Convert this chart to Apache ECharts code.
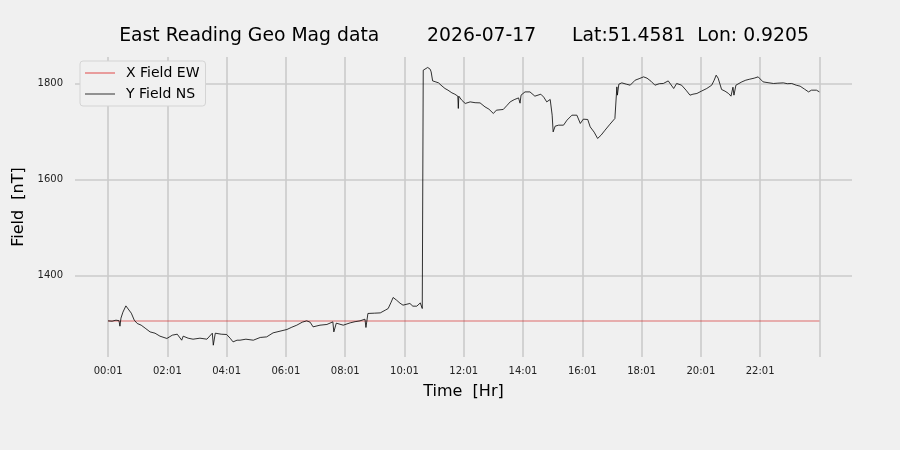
<!DOCTYPE html>
<html>
<head>
<meta charset="utf-8">
<script src="https://cdn.jsdelivr.net/npm/echarts@6/dist/echarts.min.js"></script>
<style>
  html, body { margin: 0; padding: 0; background: #f0f0f0; }
  #chart { width: 900px; height: 450px; }
</style>
</head>
<body>
<div id="chart"></div>
<script>
// time in minutes since midnight, field in nT
const yFieldNS = [
  [1,1306.3],[9,1305.6],[17,1307.7],[23,1306.7],[25,1295.2],[27,1311.9],[31,1324.4],[37,1337.5],
  [41,1334.8],[48,1322.3],[54,1307.7],[60,1300.8],[68,1297.3],[76,1291.1],[86,1283.3],[96,1280.6],
  [106,1274.4],[120,1269.6],[131,1276.5],[141,1278.5],[150,1266],[153,1274.4],[163,1270.2],[173,1268.1],
  [187,1270.2],[201,1268.1],[212,1280.6],[214,1255.6],[218,1280.6],[230,1278.5],[241,1277.9],[248,1270.2],
  [254,1262.5],[262,1266],[268,1266],[280,1268.1],[295,1266],[309,1271.7],[322,1272.9],[335,1281.3],
  [349,1284.8],[363,1288.3],[373,1293.1],[383,1297.3],[394,1303.5],[403,1306.3],[410,1303.5],[416,1293.8],
  [430,1297.3],[444,1298.8],[456,1304.2],[458,1283.3],[463,1301.5],[477,1297.3],[491,1302.1],[501,1304.6],
  [511,1306.3],[521,1309.8],[523,1292.5],[527,1321.7],[540,1322.3],[552,1322.9],[562,1328.5],[568,1332],
  [574,1345.2],[578,1355],[585,1349.4],[592,1343.1],[598,1339],[606,1341],[612,1342.5],[618,1336.9],
  [626,1336.9],[633,1343.7],[637,1332],[639,1828.5],[643,1830.6],[648,1834.2],[653,1830.6],[655,1825],
  [658,1806.2],[663,1804.6],[670,1802.1],[675,1797.3],[683,1790.4],[689,1786.9],[697,1781.3],[703,1778.5],
  [709,1774.4],[710,1748.8],[711,1774.4],[717,1766],[724,1759.2],[734,1762.5],[744,1760.8],[754,1760.4],
  [764,1752.1],[772,1747.3],[781,1738.3],[787,1745.2],[791,1743.8],[801,1746.7],[809,1755.6],[815,1762.5],
  [823,1767.1],[832,1770.8],[835,1759.8],[837,1776.5],[845,1783.3],[849,1785.8],[855,1783.3],[865,1774.4],
  [877,1778.5],[883,1772.3],[889,1762.5],[896,1767.5],[900,1734.8],[902,1700],[906,1711.9],[913,1714],
  [923,1714],[930,1724.4],[940,1734.8],[950,1734.8],[957,1717.5],[963,1726.5],[972,1725.8],[977,1710.4],
  [985,1699.4],[992,1686.3],[999,1693.1],[1007,1703.5],[1017,1716],[1027,1727.9],[1031,1793.8],[1032,1776.5],
  [1035,1799.4],[1041,1802.1],[1050,1799.4],[1058,1797.3],[1068,1807.7],[1076,1810.8],[1085,1814.6],[1092,1811.9],
  [1100,1805.6],[1108,1797.3],[1117,1800.4],[1125,1800.8],[1135,1806.2],[1146,1790.4],[1152,1800.8],[1162,1797.3],
  [1171,1786.9],[1179,1776.5],[1185,1778.5],[1193,1780],[1202,1784.8],[1213,1790.4],[1223,1797.3],[1228,1807.7],
  [1232,1818.1],[1236,1811.9],[1243,1788.3],[1250,1784.8],[1257,1780],[1262,1774.4],[1266,1793.1],[1268,1776.5],
  [1272,1797.3],[1284,1804.2],[1292,1807.7],[1300,1809.8],[1309,1811.9],[1317,1814.6],[1327,1804.2],[1337,1802.5],
  [1348,1800.8],[1357,1801.5],[1368,1802.1],[1376,1800.4],[1385,1800.8],[1394,1797.3],[1402,1795.2],[1411,1789],
  [1419,1783.3],[1425,1786.9],[1429,1788.3],[1435,1786.9],[1441,1783.3]
];
const xFieldEW = [[1,1306],[1441,1306]];

const xTicks = [1,121,241,361,481,601,721,841,961,1081,1201,1321,1441];
const xLabels = [1,121,241,361,481,601,721,841,961,1081,1201,1321];
const yTicks = [1400,1600,1800];

const font = 'DejaVu Sans';

function hhmm(v) {
  const h = Math.floor(v / 60), m = v % 60;
  return String(h).padStart(2, '0') + ':' + String(m).padStart(2, '0');
}

const chart = echarts.init(document.getElementById('chart'), null, {renderer: 'canvas'});

chart.setOption({
  backgroundColor: '#f0f0f0',
  animation: false,
  title: {
    text: 'East Reading Geo Mag data        2026-07-17      Lat:51.4581  Lon: 0.9205',
    left: 464,
    top: 27,
    padding: 0,
    textAlign: 'center',
    textStyle: {fontFamily: font, fontSize: 18.8, fontWeight: 'normal', color: '#000'}
  },
  legend: {
    orient: 'vertical',
    left: 80,
    top: 61,
    padding: [5, 6, 5, 5],
    itemGap: 7,
    itemWidth: 30,
    itemHeight: 14,
    icon: 'path://M0,0H30V1H0Z',
    backgroundColor: '#f0f0f0',
    borderColor: '#d4d4d4',
    borderWidth: 1,
    borderRadius: 3,
    textStyle: {fontFamily: font, fontSize: 14, color: '#000', padding: [0, 0, 0, 6]},
    data: [
      {name: 'X Field EW', itemStyle: {color: '#e04848'}},
      {name: 'Y Field NS', itemStyle: {color: '#333'}}
    ]
  },
  grid: {left: 75, right: 48, top: 57, bottom: 93},
  xAxis: {
    type: 'value',
    min: -66,
    max: 1507,
    name: 'Time  [Hr]',
    nameLocation: 'middle',
    nameGap: 27,
    nameTextStyle: {fontFamily: font, fontSize: 16, color: '#000'},
    axisLine: {show: false},
    axisTick: {show: false, customValues: xTicks},
    axisLabel: {customValues: xLabels, formatter: hhmm, fontFamily: font, fontSize: 10, color: '#222', margin: 9},
    splitLine: {show: true, lineStyle: {color: '#cbcbcb', width: 1.6}}
  },
  yAxis: {
    type: 'value',
    min: 1231,
    max: 1856,
    name: 'Field  [nT]',
    nameLocation: 'middle',
    nameGap: 41,
    nameTextStyle: {fontFamily: font, fontSize: 16, color: '#000'},
    axisLine: {show: false},
    axisTick: {show: false, customValues: yTicks},
    axisLabel: {customValues: yTicks, formatter: (v) => String(v), fontFamily: font, fontSize: 10, color: '#222', margin: 12},
    splitLine: {show: true, lineStyle: {color: '#cbcbcb', width: 1.6}}
  },
  series: [
    {
      name: 'X Field EW',
      type: 'line',
      symbol: 'none',
      data: xFieldEW,
      color: 'rgba(210,30,30,0.8)',
      lineStyle: {width: 0.8, color: 'rgba(210,30,30,0.8)'}
    },
    {
      name: 'Y Field NS',
      type: 'line',
      symbol: 'none',
      data: yFieldNS,
      color: '#000',
      lineStyle: {width: 0.8, color: '#000'}
    }
  ]
});
</script>
</body>
</html>
